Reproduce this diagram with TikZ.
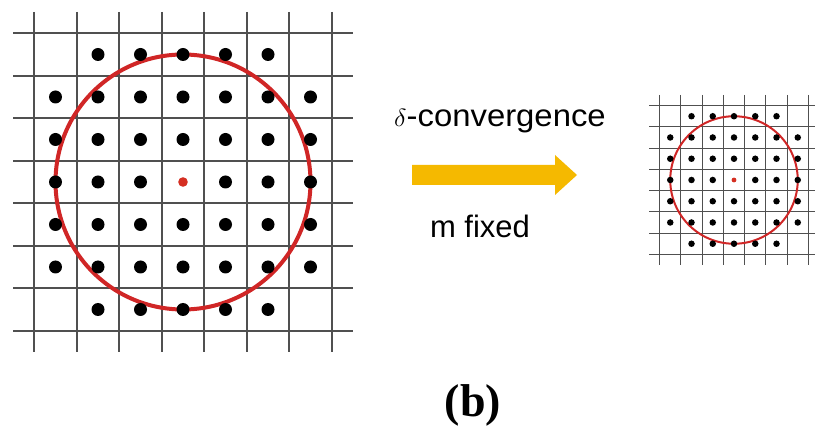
\documentclass[tikz,border=0pt]{standalone}
\usepackage{fontspec}
\setmainfont{Liberation Sans}
\newfontfamily\capfont{Liberation Serif}
\usetikzlibrary{positioning}
\definecolor{gridgray}{RGB}{80,80,80}
\definecolor{ringred}{RGB}{208,38,38}
\definecolor{pushgold}{RGB}{245,185,0}
% lattice panel: centre x, centre y, scale
\newcommand{\dotlattice}[3]{%
  \begin{scope}[shift={(#1,#2)}, scale=#3]
    \foreach \k in {-3.5,-2.5,...,3.5} {
      \draw[gridline, line width={#3*2.2pt}] (-170,\k*42.5) -- (170,\k*42.5);
      \draw[gridline, line width={#3*2.2pt}] (\k*42.5,-170) -- (\k*42.5,170);
    }
    \draw[ring, line width={#3*4pt}] (0,0) circle[radius=127.5];
    \foreach \i in {-3,...,3}
      \foreach \j in {-3,...,3} {
        \pgfmathtruncatemacro{\corner}{abs(\i)==3 && abs(\j)==3}
        \ifnum\corner=0
          \ifnum\i=0 \ifnum\j=0 \else \fill (\i*42.5,\j*42.5) circle[radius=6.5]; \fi
          \else \fill (\i*42.5,\j*42.5) circle[radius=6.5]; \fi
        \fi
      }
    \fill[ringred!90!orange] (0,0) circle[radius=4.8];
  \end{scope}}

\begin{document}
\begin{tikzpicture}[x=1pt, y=-1pt,
  gridline/.style={draw=gridgray},
  ring/.style={draw=ringred},
  label/.style={font=\fontsize{31}{36}\selectfont, inner sep=0pt}]
\useasboundingbox[fill=white] (0,0) rectangle (815,430);

\dotlattice{183}{182}{1}
\dotlattice{734}{180}{0.5}

% the push arrow
\fill[pushgold] (412,165) -- (555,165) -- (555,155) -- (577,175)
  -- (555,195) -- (555,185) -- (412,185) -- cycle;

\node (conv) [label, anchor=base, xscale=1.06] at (500,127) {$\delta$-convergence};
\node (fixm) [label, anchor=base] at (480,238) {m fixed};
\node (tag) [anchor=base, inner sep=0pt, font=\capfont\bfseries\fontsize{46}{52}\selectfont] at (473,417) {(b)};
\end{tikzpicture}
\end{document}
